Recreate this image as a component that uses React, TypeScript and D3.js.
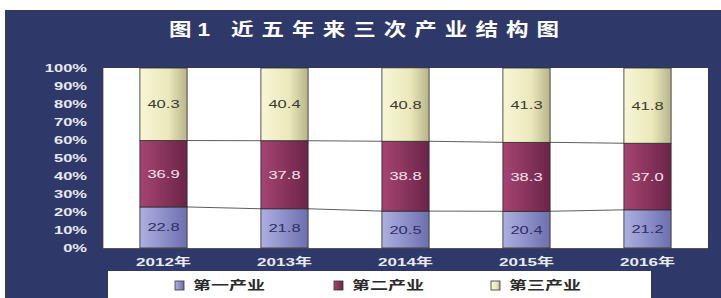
import React from "react";
import * as d3 from "d3";

const years = ["2012年", "2013年", "2014年", "2015年", "2016年"];
const primary = [22.8, 21.8, 20.5, 20.4, 21.2];
const secondary = [36.9, 37.8, 38.8, 38.3, 37.0];
const tertiary = [40.3, 40.4, 40.8, 41.3, 41.8];
const seriesNames = ["第一产业", "第二产业", "第三产业"];
const yTicks = [0, 10, 20, 30, 40, 50, 60, 70, 80, 90, 100];
const titlePrefix = "图1";
const titleMain = "近五年来三次产业结构图";

const W = 721;
const H = 298;
const FONT = "'Liberation Sans', Arial, 'Noto Sans CJK SC', sans-serif";

export default function App() {
  const x = d3.scaleBand<string>().domain(years).range([103, 708]).paddingInner(0.61).paddingOuter(0.305);
  const y = d3.scaleLinear().domain([0, 100]).range([248, 68]);
  const seriesData = [primary, secondary, tertiary];
  const stacked = years.map((_, i) => {
    let acc = 0;
    return seriesData.map((s) => {
      const y0 = acc;
      acc += s[i];
      return { y0, y1: acc, v: s[i] };
    });
  });
  const fills = ["url(#g1)", "url(#g2)", "url(#g3)"];
  const labelColors = ["#2d2f66", "#f3e4ec", "#3a3a30"];
  const legendX = [175, 334, 491];
  const sx = 1.5;
  const tsx = 1.25;

  return (
    <div style={{ position: "absolute", left: 0, top: 0 }}>
      <svg width={W} height={H} style={{ display: "block" }}>
        <defs>
          <linearGradient id="g1" x1="0" x2="1" y1="0" y2="0">
            <stop offset="0" stopColor="#aeb0e2" />
            <stop offset="1" stopColor="#6d6fae" />
          </linearGradient>
          <linearGradient id="g2" x1="0" x2="1" y1="0" y2="0">
            <stop offset="0" stopColor="#a64472" />
            <stop offset="1" stopColor="#6b2448" />
          </linearGradient>
          <linearGradient id="g3" x1="0" x2="1" y1="0" y2="0">
            <stop offset="0" stopColor="#f8f6d6" />
            <stop offset="0.6" stopColor="#ebe8bc" />
            <stop offset="1" stopColor="#b8b48a" />
          </linearGradient>
        </defs>
        <rect x={0} y={0} width={W} height={H} fill="#ffffff" />
        <rect x={5} y={10} width={W - 5} height={H - 10} fill="#2e3969" />
        <text
          transform={`translate(169,36) scale(${tsx},1)`}
          fill="#ffffff"
          fontSize={18}
          fontWeight="bold"
          fontFamily={FONT}
          textLength={41 / tsx}
          lengthAdjust="spacing"
        >
          {titlePrefix}
        </text>
        <text
          transform={`translate(231,36) scale(${tsx},1)`}
          fill="#ffffff"
          fontSize={18}
          fontWeight="bold"
          fontFamily={FONT}
          textLength={328 / tsx}
          lengthAdjust="spacing"
        >
          {titleMain}
        </text>
        {/* plot area */}
        <rect x={103} y={68} width={605} height={180} fill="#ffffff" />
        <line x1={103} x2={708} y1={248.5} y2={248.5} stroke="#555" strokeWidth={1} />
        <line x1={103.5} x2={103.5} y1={68} y2={248} stroke="#bbb" strokeWidth={1} />
        {yTicks.map((t) => (
          <text
            key={t}
            transform={`translate(87,${y(t) + 4}) scale(${sx},1)`}
            textAnchor="end"
            fill="#e8e8f0"
            fontSize={11}
            fontWeight="bold"
            fontFamily={FONT}
          >
            {t + "%"}
          </text>
        ))}
        {/* series lines */}
        {years.slice(0, -1).map((yr, i) => {
          const xa = (x(yr) as number) + x.bandwidth();
          const xb = x(years[i + 1]) as number;
          return [0, 1].map((k) => (
            <line
              key={yr + k}
              x1={xa}
              x2={xb}
              y1={y(stacked[i][k].y1)}
              y2={y(stacked[i + 1][k].y1)}
              stroke="#333"
              strokeWidth={0.8}
            />
          ));
        })}
        {years.map((yr, i) => (
          <g key={yr}>
            {stacked[i].map((seg, k) => (
              <g key={k}>
                <rect
                  x={x(yr)}
                  y={y(seg.y1)}
                  width={x.bandwidth()}
                  height={y(seg.y0) - y(seg.y1)}
                  fill={fills[k]}
                  stroke="#2a2a2a"
                  strokeWidth={0.8}
                />
                <text
                  transform={`translate(${(x(yr) as number) + x.bandwidth() / 2},${(y(seg.y0) + y(seg.y1)) / 2 + 4}) scale(${sx},1)`}
                  textAnchor="middle"
                  fill={labelColors[k]}
                  fontSize={11}
                  fontFamily={FONT}
                >
                  {seg.v.toFixed(1)}
                </text>
              </g>
            ))}
            <text
              transform={`translate(${(x(yr) as number) + x.bandwidth() / 2},266) scale(1.55,1)`}
              textAnchor="middle"
              fill="#e8e8f0"
              fontSize={11}
              fontWeight="bold"
              fontFamily={FONT}
            >
              {yr}
            </text>
          </g>
        ))}
        {/* legend */}
        <rect x={108} y={271} width={543} height={30} fill="#ffffff" />
        {seriesNames.map((n, k) => (
          <g key={n}>
            <rect x={legendX[k]} y={281} width={9} height={9} fill={fills[k]} stroke="#333" strokeWidth={0.8} />
            <text
              transform={`translate(${legendX[k] + 18},290) scale(1.5,1)`}
              fill="#2a2a2a"
              fontSize={12}
              fontWeight="bold"
              fontFamily={FONT}
            >
              {n}
            </text>
          </g>
        ))}
      </svg>
    </div>
  );
}
